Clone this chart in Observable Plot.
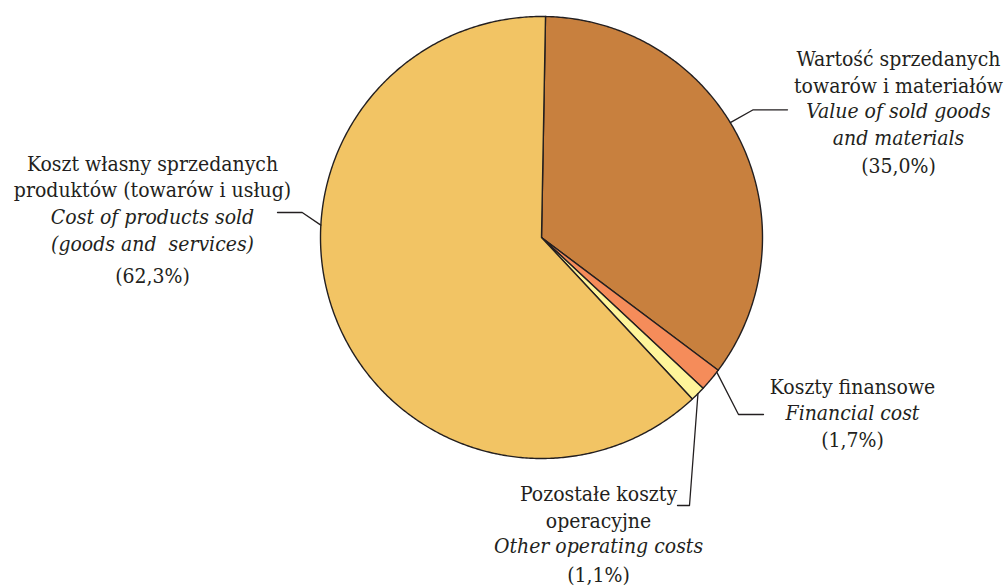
<!DOCTYPE html>
<html>
<head>
<meta charset="utf-8">
<script src="https://cdn.jsdelivr.net/npm/d3@7"></script>
<script src="https://cdn.jsdelivr.net/npm/@observablehq/plot@0.6"></script>
<style>
  html, body { margin: 0; padding: 0; background: #fff; }
  svg text { font-stretch: semi-condensed; }
</style>
</head>
<body>
<div id="chart"></div>
<script>
// ---- data ----
const categoriesPL = [
  "Wartość sprzedanych\ntowarów i materiałów",
  "Koszty finansowe",
  "Pozostałe koszty\noperacyjne",
  "Koszt własny sprzedanych\nproduktów (towarów i usług)"
];
const categoriesEN = [
  "Value of sold goods\nand materials",
  "Financial cost",
  "Other operating costs",
  "Cost of products sold\n(goods and  services)"
];
const shares = [35.0, 1.7, 1.1, 62.3];

// ---- styles & layout ----
const sliceColors = ["#C8803E", "#F58C5A", "#FFF59A", "#F2C464"];
const ink = "#231F20";
const R = 221;
const startAngleDeg = 1.04;
const labelLayout = [
  {x: 357, plY: 92 - 237, enY: 144 - 237, pctY: 172 - 237},
  {x: 311, plY: 393 - 237, enY: 419 - 237, pctY: 446 - 237},
  {x: 57,  plY: 527 - 237, enY: 552 - 237, pctY: 581 - 237},
  {x: -389, plY: 196.5 - 237, enY: 250 - 237, pctY: 282.5 - 237}
];
const leaderLayout = [
  {frac: 0.458, elbow: [211.7, -127.7], end: [246, -127.7]},
  {frac: 0.10,  elbow: [197, 177],      end: [222, 177]},
  {frac: 0.48,  elbow: [148, 268],      end: [136, 268]},
  {frac: 0.608, elbow: [-239.3, -25],   end: [-264, -25]}
];

// ---- build geometry from data ----
const rows = categoriesPL.map((pl, i) => ({name: pl, en: categoriesEN[i], share: shares[i], i}));
const pie = d3.pie().sort(null).value(d => d.share)
  .startAngle(startAngleDeg * Math.PI / 180)
  .endAngle(startAngleDeg * Math.PI / 180 + 2 * Math.PI);
const arcs = pie(rows);

const piePoints = [];
for (const a of arcs) {
  piePoints.push({name: a.data.name, x: 0, y: 0});
  const n = Math.max(2, Math.ceil((a.endAngle - a.startAngle) / (Math.PI / 360)));
  for (let k = 0; k <= n; k++) {
    const t = a.startAngle + (a.endAngle - a.startAngle) * k / n;
    piePoints.push({name: a.data.name, x: R * Math.sin(t), y: -R * Math.cos(t)});
  }
}

const leaderPoints = [];
arcs.forEach((a, i) => {
  const L = leaderLayout[i];
  const t = a.startAngle + (a.endAngle - a.startAngle) * L.frac;
  leaderPoints.push({name: a.data.name, x: R * Math.sin(t), y: -R * Math.cos(t)});
  leaderPoints.push({name: a.data.name, x: L.elbow[0], y: L.elbow[1]});
  leaderPoints.push({name: a.data.name, x: L.end[0], y: L.end[1]});
});

const labels = rows.map((d, i) => ({
  ...labelLayout[i],
  pl: d.name,
  en: d.en,
  pct: "(" + d.share.toFixed(1).replace(".", ",") + "%)"
}));

const fontSize = 21;
const textCommon = {
  textAnchor: "middle",
  lineAnchor: "bottom",
  fontSize,
  lineHeight: 26.3 / fontSize,
  fontFamily: "DejaVu Serif Condensed",
  fill: ink
};

const chart = Plot.plot({
  width: 1006,
  height: 588,
  margin: 0,
  style: {background: "#fff", overflow: "visible"},
  x: {axis: null, domain: [-541, 465], range: [0, 1006]},
  y: {axis: null, domain: [-237, 351], range: [0, 588]},
  color: {type: "ordinal", domain: categoriesPL, range: sliceColors},
  marks: [
    Plot.line(piePoints, {x: "x", y: "y", z: "name", fill: "name", stroke: ink, strokeWidth: 1.4, strokeLinejoin: "round", curve: "linear-closed"}),
    Plot.line(leaderPoints, {x: "x", y: "y", z: "name", stroke: ink, strokeWidth: 1.3}),
    Plot.text(labels, {x: "x", y: "plY", text: "pl", ...textCommon}),
    Plot.text(labels, {x: "x", y: "enY", text: "en", fontStyle: "italic", ...textCommon}),
    Plot.text(labels, {x: "x", y: "pctY", text: "pct", ...textCommon})
  ]
});
document.getElementById("chart").appendChild(chart);
</script>
</body>
</html>
